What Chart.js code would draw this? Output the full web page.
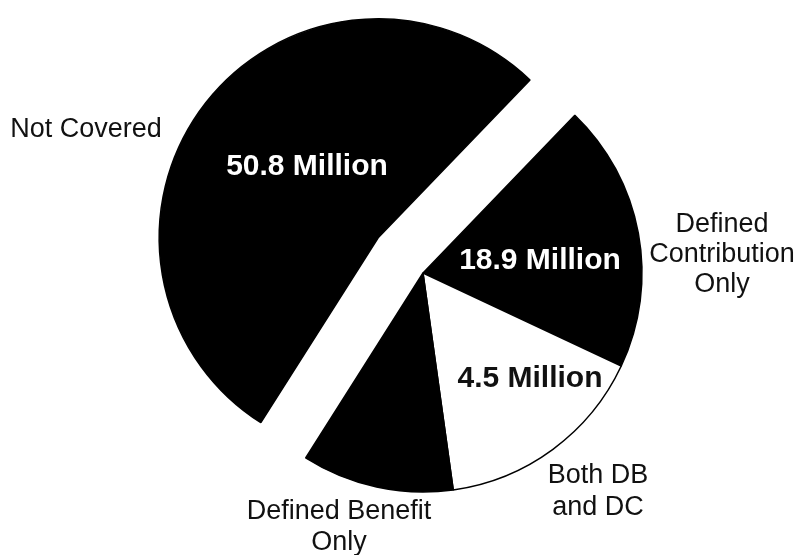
<!DOCTYPE html>
<html><head><meta charset="utf-8">
<script src="https://cdn.jsdelivr.net/npm/chart.js@4.4.0/dist/chart.umd.min.js"></script>
<style>html,body{margin:0;padding:0;background:#fff;} canvas{display:block;}</style>
</head><body>
<canvas id="c" width="801" height="555"></canvas>
<script>
// ---- data ----
const categories = ["Not Covered", "Defined Contribution Only", "Both DB and DC", "Defined Benefit Only"];
const values = [50.8, 18.9, 15.1, 10.7];           // slice sizes as drawn
const valueLabels = ["50.8 Million", "18.9 Million", "4.5 Million", ""];
const categoryLines = [["Not Covered"], ["Defined", "Contribution", "Only"], ["Both DB", "and DC"], ["Defined Benefit", "Only"]];

// ---- style / layout ----
const sliceColors = ["#000000", "#000000", "#ffffff", "#000000"];
const valueColors = ["#ffffff", "#ffffff", "#111111", "#ffffff"];
const EXPLODE = 57;
const catPos = [[86, 137, 30], [722, 232, 30], [598, 483, 32], [339, 519, 31]];
const valPos = [[307, 175], [540, 269], [530, 387], [0, 0]];
const FONT = "'Liberation Sans', Arial, Helvetica, sans-serif";

const explodePlugin = {
  id: 'explode',
  afterUpdate(chart) {
    const el = chart.getDatasetMeta(0).data[0];
    const mid = (el.startAngle + el.endAngle) / 2;
    el.x += Math.cos(mid) * EXPLODE;
    el.y += Math.sin(mid) * EXPLODE;
  }
};

const textPlugin = {
  id: 'texts',
  afterDraw(chart) {
    const ctx = chart.ctx;
    ctx.save();
    ctx.textAlign = 'center';
    ctx.textBaseline = 'alphabetic';
    ctx.fillStyle = '#111';
    ctx.font = '27px ' + FONT;
    categoryLines.forEach((lines, i) => {
      const [x, y, lh] = catPos[i];
      lines.forEach((t, j) => ctx.fillText(t, x, y + j * lh));
    });
    ctx.font = 'bold 30px ' + FONT;
    valueLabels.forEach((t, i) => {
      if (!t) return;
      ctx.fillStyle = valueColors[i];
      ctx.fillText(t, valPos[i][0], valPos[i][1]);
    });
    ctx.restore();
  }
};

new Chart(document.getElementById('c'), {
  type: 'pie',
  data: {
    labels: categories,
    datasets: [{
      data: values,
      backgroundColor: sliceColors,
      borderColor: '#000',
      borderWidth: 1.5
    }]
  },
  options: {
    responsive: false,
    animation: false,
    rotation: 212.4,
    radius: 219,
    layout: { padding: { left: 45, right: 0, top: 0, bottom: 9 } },
    plugins: { legend: { display: false }, tooltip: { enabled: false } }
  },
  plugins: [explodePlugin, textPlugin]
});
</script>
</body></html>
